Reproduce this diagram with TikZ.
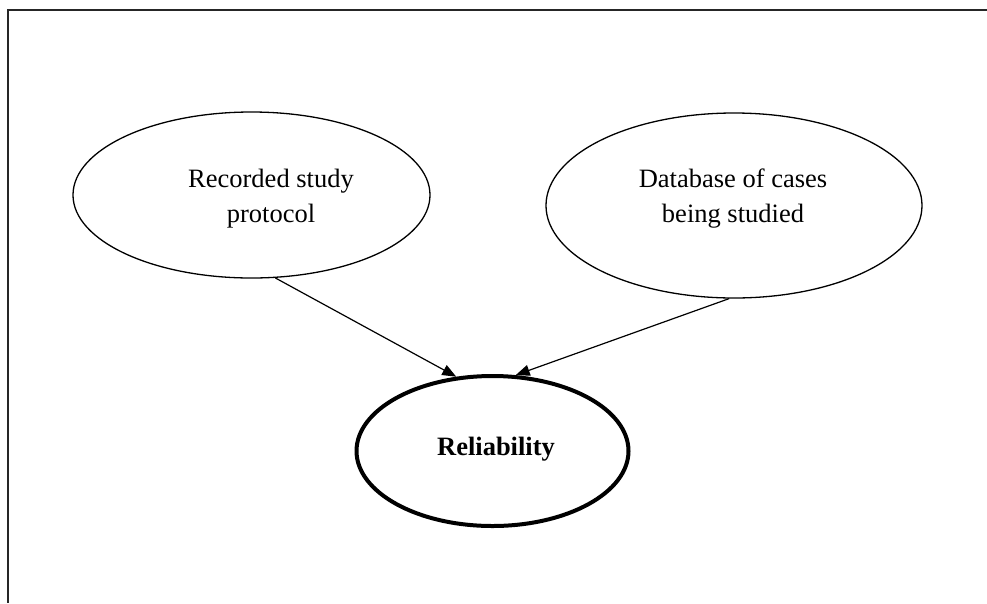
\documentclass[tikz,border=0pt]{standalone}
\usepackage{fontspec}
\setmainfont{Liberation Serif}
\usetikzlibrary{shapes.geometric,arrows.meta}

\tikzset{
  bubble/.style={ellipse, draw=black, line width=1.3pt, inner sep=0pt},
  keybubble/.style={ellipse, draw=black, line width=4pt, inner sep=0pt},
  caption/.style={align=center, font=\fontsize{26.5}{35}\selectfont, inner sep=0pt},
  link/.style={draw=black, line width=1.2pt, -{Triangle[length=14pt,width=11pt]}},
  frame/.style={draw=black!85, line width=2pt}
}

\begin{document}
\begin{tikzpicture}[x=1pt, y=-1pt]
  \useasboundingbox (0,0) rectangle (987,603);

  % open frame: top and left edges only
  \coordinate (frameTR) at (987,10);
  \coordinate (frameTL) at (8,10);
  \coordinate (frameBL) at (8,603);
  \draw[frame] (frameTR) -- (frameTL) -- (frameBL);

  % source ellipses
  \node[bubble, minimum width=357pt, minimum height=166pt] (rec) at (251.5,195) {};
  \node[caption] (recText) at (271,199) {Recorded study\\protocol};

  \node[bubble, minimum width=376pt, minimum height=185pt] (db) at (734,205.5) {};
  \node[caption] (dbText) at (733,199) {Database of cases\\being studied};

  % target ellipse
  \node[keybubble, minimum width=272pt, minimum height=150pt] (rel) at (492.5,451) {};
  \node[caption, font=\fontsize{26.5}{35}\selectfont\bfseries] (relText) at (496,449) {Reliability};

  % connectors
  \draw[link] (rec.-74.5) -- (rel.116.3);
  \draw[link] (db.-93) -- (rel.73.9);
\end{tikzpicture}
\end{document}
